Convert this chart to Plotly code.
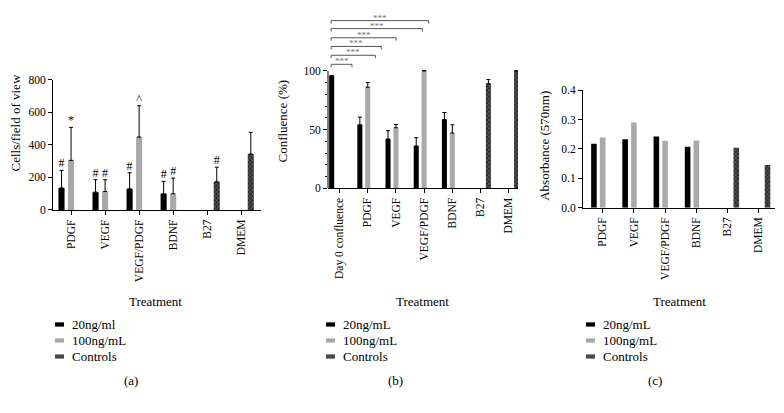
import plotly.graph_objects as go

FONT = "Liberation Serif, Times New Roman, serif"

# ---------------- data ----------------
cats_a = ["PDGF", "VEGF", "VEGF/PDGF", "BDNF", "B27", "DMEM"]
cells_20 = [135, 109, 129, 99, None, None]
cells_20_err = [107, 76, 99, 76, None, None]
cells_100 = [304, 113, 447, 99, None, None]
cells_100_err = [202, 72, 192, 96, None, None]
cells_ctrl = [None, None, None, None, 173, 343]
cells_ctrl_err = [None, None, None, None, 89, 133]
mark_20 = ["#", "#", "#", "#", "", ""]
mark_100 = ["*", "#", "^", "#", "", ""]
mark_ctrl = ["", "", "", "", "#", ""]

cats_b = ["Day 0 confluence", "PDGF", "VEGF", "VEGF/PDGF", "BDNF", "B27", "DMEM"]
conf_20 = [95.5, 54, 42, 36, 58.5, None, None]
conf_20_err = [0.6, 6.5, 7, 7, 6, None, None]
conf_100 = [None, 86, 51.5, 100, 47, None, None]
conf_100_err = [None, 4, 2.8, 0, 7, None, None]
conf_ctrl = [None, None, None, None, None, 89, 100]
conf_ctrl_err = [None, None, None, None, None, 3.6, 0]
# significance brackets: (left end, right end, height) in category units / %
brk_left = -0.3
brk_right = [0.44, 1.27, 1.48, 2.01, 2.94, 3.16]
brk_level = [105.5, 113.2, 120.7, 128.1, 135.9, 142.7]
brk_text = "***"

cats_c = ["PDGF", "VEGF", "VEGF/PDGF", "BDNF", "B27", "DMEM"]
abs_20 = [0.218, 0.233, 0.242, 0.207, None, None]
abs_100 = [0.239, 0.290, 0.228, 0.229, None, None]
abs_ctrl = [None, None, None, None, 0.204, 0.145]

legend_labels_a = ["20ng/ml", "100ng/mL", "Controls"]
legend_labels_bc = ["20ng/mL", "100ng/mL", "Controls"]

# ---------------- style ----------------
C_BLACK = "#000000"
C_GREY = "#a9a9a9"
C_CTRL = "#3c3c3c"
W, H = 784, 413

def ctrl_marker():
    return dict(color=C_CTRL,
                pattern=dict(shape="x", bgcolor="#2e2e2e", fgcolor="#b0b0b0",
                             size=3, solidity=0.35))

fig = go.Figure()

def add_bars(xa, ya, cats, vals, errs, marker, og):
    kw = {}
    if errs is not None:
        kw["error_y"] = dict(type="data", array=errs, arrayminus=[0] * len(errs),
                             symmetric=False, color="#000000", thickness=1, width=2)
    fig.add_trace(go.Bar(x=cats, y=vals, marker=marker, marker_line_width=0,
                         offsetgroup=og, xaxis=xa, yaxis=ya, showlegend=False, **kw))

# panel a
add_bars("x", "y", cats_a, cells_20, cells_20_err, dict(color=C_BLACK), "g1")
add_bars("x", "y", cats_a, cells_100, cells_100_err, dict(color=C_GREY), "g2")
add_bars("x", "y", cats_a, cells_ctrl, cells_ctrl_err, ctrl_marker(), "g3")
for vals, errs, marks, og in [(cells_20, cells_20_err, mark_20, "g1"),
                              (cells_100, cells_100_err, mark_100, "g2"),
                              (cells_ctrl, cells_ctrl_err, mark_ctrl, "g3")]:
    tops = [None if v is None else v + e for v, e in zip(vals, errs)]
    fig.add_trace(go.Scatter(x=cats_a, y=tops, text=marks, mode="text",
                             textposition="top center", offsetgroup=og,
                             textfont=dict(family=FONT, size=12, color="black"),
                             xaxis="x", yaxis="y", showlegend=False, cliponaxis=False))

# panel b
add_bars("x2", "y2", cats_b, conf_20, conf_20_err, dict(color=C_BLACK), "g1")
add_bars("x2", "y2", cats_b, conf_100, conf_100_err, dict(color=C_GREY), "g2")
add_bars("x2", "y2", cats_b, conf_ctrl, conf_ctrl_err, ctrl_marker(), "g3")

# panel c
add_bars("x3", "y3", cats_c, abs_20, None, dict(color=C_BLACK), "g1")
add_bars("x3", "y3", cats_c, abs_100, None, dict(color=C_GREY), "g2")
add_bars("x3", "y3", cats_c, abs_ctrl, None, ctrl_marker(), "g3")

def px_x(p):
    return p / W

def px_y(p):
    return 1 - p / H

tickfont = dict(family=FONT, size=11.5, color="black")
common_x = dict(type="category", showline=True, linecolor="black", linewidth=1,
                ticks="outside", ticklen=4, tickcolor="black", tickangle=-90,
                tickfont=tickfont, showgrid=False, zeroline=False, fixedrange=True)
common_y = dict(showline=True, linecolor="black", linewidth=1, ticks="outside",
                ticklen=4, tickcolor="black", tickfont=tickfont, showgrid=False,
                zeroline=False, fixedrange=True)

fig.update_layout(
    width=W, height=H, margin=dict(l=0, r=0, t=0, b=0),
    paper_bgcolor="white", plot_bgcolor="white",
    barmode="group", bargap=0.16, bargroupgap=0.36,
    scattermode="group", scattergap=0.16,
    showlegend=False,
    font=dict(family=FONT, color="black"),
    xaxis=dict(common_x, domain=[px_x(53), px_x(261)], range=[-0.53, 5.58],
               anchor="y"),
    yaxis=dict(common_y, domain=[px_y(210), px_y(75.7)], range=[0, 800],
               tickvals=[0, 200, 400, 600, 800], anchor="x"),
    xaxis2=dict(common_x, domain=[px_x(328), px_x(518)], range=[-0.41, 6.33],
                anchor="y2"),
    yaxis2=dict(common_y, domain=[px_y(187.7), px_y(3.8)], range=[0, 152],
                tickvals=[0, 50, 100], showline=False, anchor="x2",
                minor=dict(tickvals=[10, 20, 30, 40, 60, 70, 80, 90],
                           ticks="outside", ticklen=2.5, tickcolor="black")),
    xaxis3=dict(common_x, domain=[px_x(583), px_x(775)], range=[-0.63, 5.52],
                anchor="y3"),
    yaxis3=dict(common_y, domain=[px_y(207.7), px_y(86.7)], range=[0, 0.4],
                tickvals=[0, 0.1, 0.2, 0.3, 0.4], tickformat=".1f", anchor="x3"),
)

shapes = []
# y axis line for panel b stops at 100
shapes.append(dict(type="line", xref="x2 domain", yref="y2", x0=0, x1=0, y0=0, y1=100,
                   line=dict(color="black", width=1)))
annotations = []
for xr, lvl in zip(brk_right, brk_level):
    drop = 2.5
    shapes.append(dict(type="path", xref="x2", yref="y2",
                       path=f"M {brk_left} {lvl - drop} L {brk_left} {lvl} L {xr} {lvl} L {xr} {lvl - drop}",
                       line=dict(color="#555555", width=1)))
    annotations.append(dict(xref="x2", yref="y2", x=(brk_left + xr) / 2, y=lvl,
                            text=brk_text, showarrow=False, yanchor="bottom", yshift=-3,
                            borderpad=0,
                            font=dict(family=FONT, size=9, color="#707070")))

# axis titles
title_font = dict(family=FONT, size=13, color="black")
for x, y, t in [(15, 121, "Cells/field of view"), (283, 119, "Confluence (%)"),
                (545, 144, "Absorbance (570nm)")]:
    annotations.append(dict(xref="paper", yref="paper", x=px_x(x), y=px_y(y), text=t,
                            textangle=-90, showarrow=False, xanchor="center",
                            yanchor="middle", font=title_font))
for x, t in [(155, "Treatment"), (422.5, "Treatment"), (679, "Treatment")]:
    annotations.append(dict(xref="paper", yref="paper", x=px_x(x), y=px_y(304), text=t,
                            showarrow=False, xanchor="center", yanchor="middle",
                            font=title_font))
for x, t in [(131, "(a)"), (396, "(b)"), (655, "(c)")]:
    annotations.append(dict(xref="paper", yref="paper", x=px_x(x), y=px_y(386), text=t,
                            showarrow=False, xanchor="center", yanchor="middle",
                            font=title_font))

# legends (swatch + label) per panel
sw_colors = [C_BLACK, C_GREY, "#4a4a4a"]
rows_y = [328, 344.5, 361]
for sx, labels in [(55, legend_labels_a), (326, legend_labels_bc), (586, legend_labels_bc)]:
    for col, lab, ry in zip(sw_colors, labels, rows_y):
        shapes.append(dict(type="rect", xref="paper", yref="paper",
                           x0=px_x(sx), x1=px_x(sx + 9), y0=px_y(ry + 2.2), y1=px_y(ry - 2.2),
                           fillcolor=col, line=dict(width=0)))
        annotations.append(dict(xref="paper", yref="paper", x=px_x(sx + 15), y=px_y(ry),
                                text=lab, showarrow=False, xanchor="left", yanchor="middle",
                                font=title_font))

fig.update_layout(shapes=shapes, annotations=annotations)
fig.write_html("out.html", config={"displayModeBar": False},
               post_script="document.body.style.margin='0';document.body.style.overflow='hidden';")
